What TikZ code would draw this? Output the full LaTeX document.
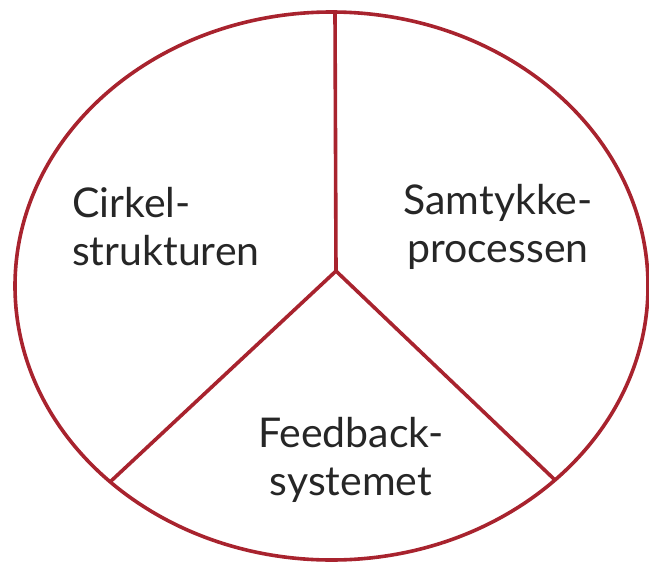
\documentclass[tikz,border=0pt]{standalone}
\usepackage{fontspec}
\setmainfont{Lato}
\usetikzlibrary{calc}

\definecolor{ringred}{HTML}{A8232E}

\tikzset{
  ring/.style={draw=ringred, line width=3.6pt},
  spoke/.style={draw=ringred, line width=3.6pt},
  label/.style={font=\fontsize{41}{48}\selectfont, text=black!85, inner sep=0pt}
}

\begin{document}
\begin{tikzpicture}[x=1pt,y=-1pt]
\useasboundingbox (0,0) rectangle (649,563);
% outer ring
\draw[ring] (331.5,286) ellipse (316.5 and 274);
% three spokes meeting in the hub
\coordinate (hub) at (336,271);
\coordinate (top) at (335,12);
\coordinate (lft) at (110,482);
\coordinate (rgt) at (555,480);
\draw[spoke] (hub) -- (top);
\draw[spoke] (hub) -- (lft);
\draw[spoke] (hub) -- (rgt);
% the three parts
\node[label, align=left, anchor=base west] (cirkel) at (72,265) {Cirkel-\\strukturen};
\node[label, align=center, anchor=base] (samtykke) at (498,262) {Samtykke-\\processen};
\node[label, align=center, anchor=base] (feedback) at (351,495) {Feedback-\\systemet};
\end{tikzpicture}
\end{document}
